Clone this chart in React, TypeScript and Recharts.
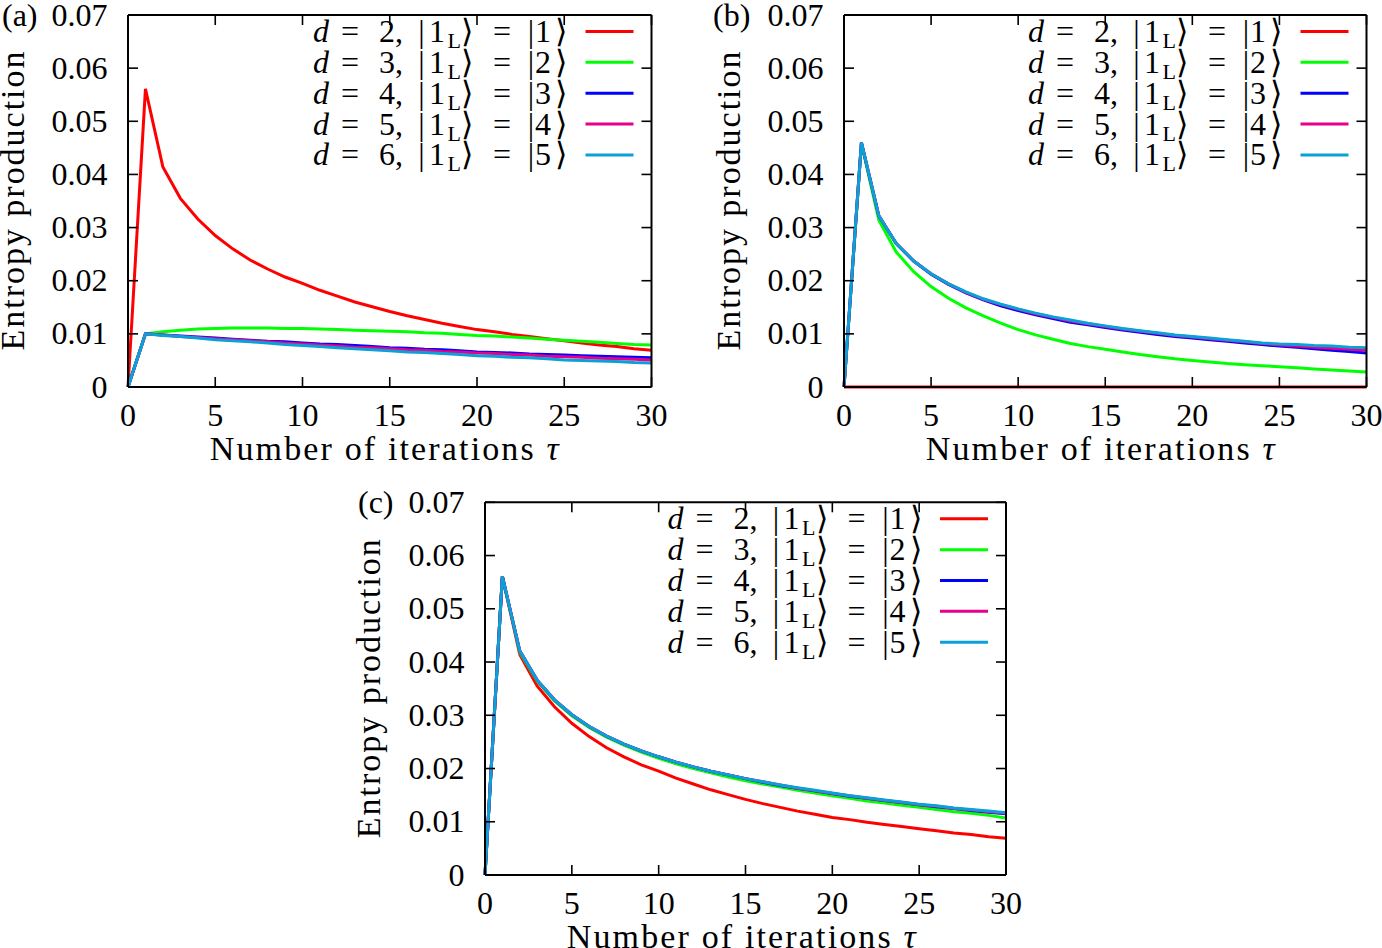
import React from 'react';
import { LineChart, Line, XAxis, YAxis, Legend } from 'recharts';

const taus = [0, 1, 2, 3, 4, 5, 6, 7, 8, 9, 10, 11, 12, 13, 14, 15, 16, 17, 18, 19, 20, 21, 22, 23, 24, 25, 26, 27, 28, 29, 30];

const xTicks = [0, 5, 10, 15, 20, 25, 30];
const xTickLabels = ['0', '5', '10', '15', '20', '25', '30'];
const yTicks = [0, 0.01, 0.02, 0.03, 0.04, 0.05, 0.06, 0.07];
const yTickLabels = ['0', '0.01', '0.02', '0.03', '0.04', '0.05', '0.06', '0.07'];

const dims = [2, 3, 4, 5, 6];
const states = [1, 2, 3, 4, 5];
const seriesKeys = ['d2', 'd3', 'd4', 'd5', 'd6'];
const seriesColors = ['#ff0000', '#00ff00', '#0000ff', '#e6008a', '#0aa0d8'];

// Panel (a)
const aRed = [0, 0.0561, 0.0414, 0.0355, 0.0316, 0.0285, 0.026, 0.0239, 0.0222, 0.0207, 0.0195, 0.0182, 0.0171, 0.016, 0.0151, 0.0142, 0.0134, 0.0127, 0.012, 0.0114, 0.0108, 0.0104, 0.0099, 0.0095, 0.0091, 0.0087, 0.0083, 0.0079, 0.0076, 0.0072, 0.0069];
const aGreen = [0, 0.01, 0.0104, 0.0107, 0.0109, 0.011, 0.0111, 0.0111, 0.0111, 0.011, 0.011, 0.0109, 0.0108, 0.0107, 0.0106, 0.0105, 0.0104, 0.0102, 0.0101, 0.0099, 0.0097, 0.0096, 0.0094, 0.0092, 0.009, 0.0088, 0.0086, 0.0084, 0.0082, 0.008, 0.0079];
const aBlue = [0, 0.01, 0.0098, 0.0096, 0.0094, 0.0092, 0.009, 0.0088, 0.0086, 0.0085, 0.0083, 0.0081, 0.008, 0.0078, 0.0076, 0.0074, 0.0073, 0.0071, 0.007, 0.0068, 0.0066, 0.0065, 0.0064, 0.0062, 0.0061, 0.006, 0.0059, 0.0058, 0.0057, 0.0056, 0.0055];
const aMagenta = [0, 0.01, 0.0098, 0.0095, 0.0093, 0.0091, 0.0089, 0.0087, 0.0085, 0.0083, 0.0081, 0.0079, 0.0077, 0.0075, 0.0074, 0.0072, 0.007, 0.0069, 0.0067, 0.0066, 0.0064, 0.0063, 0.0061, 0.006, 0.0058, 0.0057, 0.0056, 0.0054, 0.0053, 0.0052, 0.0051];
const aCyan = [0, 0.01, 0.0097, 0.0095, 0.0092, 0.0089, 0.0087, 0.0085, 0.0083, 0.008, 0.0078, 0.0076, 0.0074, 0.0072, 0.007, 0.0068, 0.0066, 0.0065, 0.0063, 0.0061, 0.0059, 0.0058, 0.0056, 0.0055, 0.0053, 0.0051, 0.005, 0.0049, 0.0048, 0.0046, 0.0045];

// Panel (b)
const bRed = [0, 0, 0, 0, 0, 0, 0, 0, 0, 0, 0, 0, 0, 0, 0, 0, 0, 0, 0, 0, 0, 0, 0, 0, 0, 0, 0, 0, 0, 0, 0];
const bGreen = [0, 0.0458, 0.0314, 0.0254, 0.0217, 0.0189, 0.0167, 0.0149, 0.0134, 0.012, 0.0108, 0.0098, 0.009, 0.0082, 0.0076, 0.0071, 0.0066, 0.0061, 0.0057, 0.0053, 0.005, 0.0047, 0.0044, 0.0042, 0.004, 0.0038, 0.0036, 0.0034, 0.0032, 0.003, 0.0028];
const bBlue = [0, 0.046, 0.0322, 0.027, 0.0237, 0.0212, 0.0193, 0.0177, 0.0164, 0.0153, 0.0144, 0.0136, 0.0129, 0.0122, 0.0117, 0.0112, 0.0107, 0.0103, 0.0099, 0.0095, 0.0092, 0.0089, 0.0086, 0.0083, 0.008, 0.0077, 0.0075, 0.0072, 0.0069, 0.0067, 0.0064];
const bMagenta = [0, 0.046, 0.0322, 0.027, 0.0237, 0.0213, 0.0194, 0.0178, 0.0165, 0.0155, 0.0146, 0.0138, 0.0131, 0.0124, 0.0119, 0.0114, 0.0109, 0.0105, 0.0101, 0.0097, 0.0094, 0.0091, 0.0088, 0.0085, 0.0082, 0.0079, 0.0077, 0.0075, 0.0073, 0.0071, 0.0069];
const bCyan = [0, 0.046, 0.0322, 0.027, 0.0237, 0.0213, 0.0194, 0.0179, 0.0166, 0.0156, 0.0147, 0.0139, 0.0132, 0.0126, 0.012, 0.0115, 0.011, 0.0106, 0.0102, 0.0098, 0.0095, 0.0092, 0.0089, 0.0086, 0.0083, 0.0081, 0.008, 0.0078, 0.0077, 0.0075, 0.0074];

// Panel (c)
const cRed = [0, 0.0561, 0.0414, 0.0355, 0.0316, 0.0285, 0.026, 0.0239, 0.0222, 0.0207, 0.0195, 0.0182, 0.0171, 0.016, 0.0151, 0.0142, 0.0134, 0.0127, 0.012, 0.0114, 0.0108, 0.0104, 0.0099, 0.0095, 0.0091, 0.0087, 0.0083, 0.0079, 0.0076, 0.0072, 0.0069];
const cGreen = [0, 0.0561, 0.0418, 0.0364, 0.0327, 0.0299, 0.0277, 0.0259, 0.0244, 0.0231, 0.0219, 0.0209, 0.02, 0.0192, 0.0184, 0.0177, 0.0171, 0.0165, 0.0159, 0.0154, 0.0149, 0.0144, 0.0139, 0.0135, 0.0131, 0.0127, 0.0123, 0.0119, 0.0116, 0.0112, 0.0107];
const cBlue = [0, 0.0561, 0.0421, 0.0366, 0.0329, 0.0301, 0.0279, 0.0261, 0.0246, 0.0233, 0.0222, 0.0212, 0.0203, 0.0195, 0.0188, 0.0181, 0.0174, 0.0168, 0.0163, 0.0158, 0.0153, 0.0148, 0.0144, 0.014, 0.0136, 0.0132, 0.0128, 0.0125, 0.0121, 0.0118, 0.0115];
const cMagenta = [0, 0.0561, 0.0421, 0.0366, 0.0329, 0.0301, 0.0279, 0.0261, 0.0246, 0.0233, 0.0222, 0.0212, 0.0203, 0.0195, 0.0188, 0.0181, 0.0175, 0.0169, 0.0163, 0.0158, 0.0153, 0.0149, 0.0144, 0.014, 0.0136, 0.0132, 0.0129, 0.0125, 0.0122, 0.0119, 0.0116];
const cCyan = [0, 0.0561, 0.0421, 0.0366, 0.0329, 0.0301, 0.0279, 0.0261, 0.0246, 0.0233, 0.0222, 0.0212, 0.0203, 0.0195, 0.0188, 0.0181, 0.0175, 0.0169, 0.0164, 0.0159, 0.0154, 0.0149, 0.0145, 0.0141, 0.0137, 0.0133, 0.013, 0.0126, 0.0123, 0.012, 0.0117];

const panelTags = ['(a)', '(b)', '(c)'];

const buildRows = (series: number[][]) =>
  taus.map((t, i) => {
    const row: Record<string, number> = { tau: t };
    seriesKeys.forEach((k, j) => {
      row[k] = series[j][i];
    });
    return row;
  });

const dataA = buildRows([aRed, aGreen, aBlue, aMagenta, aCyan]);
const dataB = buildRows([bRed, bGreen, bBlue, bMagenta, bCyan]);
const dataC = buildRows([cRed, cGreen, cBlue, cMagenta, cCyan]);

const FONT = '"Liberation Serif", "Times New Roman", serif';
const FS = 32;
const LFS = 34;
const TICK = 10;

type PanelCfg = {
  data: Record<string, number>[];
  tag: string;
  left: number;
  top: number;
  width: number;
  height: number;
  yAxisW: number;
  topH: number;
  bottomH: number;
  rightW: number;
  tagX: number;
};

const panels: PanelCfg[] = [
  { data: dataA, tag: panelTags[0], left: 0, top: 0, width: 660, height: 470, yAxisW: 128, topH: 15, bottomH: 83, rightW: 8.5, tagX: 2 },
  { data: dataB, tag: panelTags[1], left: 716, top: 0, width: 659, height: 470, yAxisW: 128, topH: 15, bottomH: 83, rightW: 8.5, tagX: -3 },
  { data: dataC, tag: panelTags[2], left: 357, top: 487, width: 657, height: 461, yAxisW: 128, topH: 15.3, bottomH: 73, rightW: 8, tagX: 1 },
];

const BottomTick = (props: any) => {
  const { x, y, index } = props;
  return (
    <g>
      <line x1={x} y1={y} x2={x} y2={y - TICK} stroke="#000" strokeWidth={1.6} />
      <text x={x} y={y + 39.4} textAnchor="middle" fontFamily={FONT} fontSize={FS} fill="#000">
        {xTickLabels[index]}
      </text>
    </g>
  );
};

const TopTick = (props: any) => {
  const { x, y } = props;
  return <line x1={x} y1={y} x2={x} y2={y + TICK} stroke="#000" strokeWidth={1.6} />;
};

const LeftTick = (props: any) => {
  const { x, y, index } = props;
  return (
    <g>
      <line x1={x} y1={y} x2={x + TICK} y2={y} stroke="#000" strokeWidth={1.6} />
      <text x={x - 20.4} y={y + 10.5} textAnchor="end" fontFamily={FONT} fontSize={FS} fill="#000">
        {yTickLabels[index]}
      </text>
    </g>
  );
};

const RightTick = (props: any) => {
  const { x, y } = props;
  return <line x1={x} y1={y} x2={x - TICK} y2={y} stroke="#000" strokeWidth={1.6} />;
};

const XLabel = (props: any) => {
  const vb = props.viewBox || { x: 0, y: 0 };
  return (
    <text x={vb.x + 81.7} y={vb.y + 72.7} fontFamily={FONT} fontSize={LFS} fill="#000" textLength={349} lengthAdjust="spacing">
      Number of iterations <tspan fontStyle="italic">τ</tspan>
    </text>
  );
};

const YLabel = (props: any) => {
  const vb = props.viewBox || { x: 0, y: 0, width: 0, height: 0 };
  const x = vb.x + vb.width - 104.5;
  const y = vb.y + vb.height / 2;
  return (
    <text
      x={x}
      y={y}
      transform={`rotate(-90, ${x}, ${y})`}
      textAnchor="middle"
      fontFamily={FONT}
      fontSize={LFS}
      fill="#000"
      textLength={299}
      lengthAdjust="spacing"
    >
      Entropy production
    </text>
  );
};

const makeLegend = (cfg: PanelCfg) => (props: any) => {
  const payload = props.payload || [];
  const R = cfg.width - cfg.rightW;
  const T = cfg.topH;
  return (
    <svg width={cfg.width} height={cfg.height} style={{ position: 'absolute', left: 0, top: 0, overflow: 'visible' }}>
      <text x={cfg.tagX} y={T + 10.5} fontFamily={FONT} fontSize={FS} fill="#000">
        {cfg.tag}
      </text>
      {payload.map((p: any, i: number) => {
        const cy = T + 16.5 + 30.85 * i;
        const by = cy + 10.5;
        return (
          <g key={i}>
            <text y={by} fontFamily={FONT} fontSize={FS} fill="#000">
              <tspan x={R - 338.5} fontStyle="italic">d</tspan>
              <tspan x={R - 301.5} textAnchor="middle">=</tspan>
              <tspan x={R - 272.5}>{dims[i]},</tspan>
              <tspan x={R - 230} textAnchor="middle">|</tspan>
              <tspan x={R - 222.5}>1</tspan>
              <tspan x={R - 204} dy={6} fontSize={22}>L</tspan>
              <tspan x={R - 190.5} dy={-6}>⟩</tspan>
              <tspan x={R - 149.5} textAnchor="middle">=</tspan>
              <tspan x={R - 120.5} textAnchor="middle">|</tspan>
              <tspan x={R - 116.5}>{states[i]}</tspan>
              <tspan x={R - 96.5}>⟩</tspan>
            </text>
            <line x1={R - 66} x2={R - 18} y1={cy} y2={cy} stroke={p.color || seriesColors[i]} strokeWidth={3} />
          </g>
        );
      })}
    </svg>
  );
};

const Panel = ({ cfg }: { cfg: PanelCfg }) => (
  <div style={{ position: 'absolute', left: cfg.left, top: cfg.top, width: cfg.width, height: cfg.height }}>
    <LineChart width={cfg.width} height={cfg.height} data={cfg.data} margin={{ top: 0, right: 0, bottom: 0, left: 0 }}>
      <XAxis
        dataKey="tau"
        type="number"
        domain={[0, 30]}
        ticks={xTicks}
        interval={0}
        height={cfg.bottomH}
        tickSize={0}
        tickMargin={0}
        tick={BottomTick}
        tickLine={false}
        axisLine={{ stroke: '#000', strokeWidth: 2 }}
        label={<XLabel />}
      />
      <XAxis
        xAxisId="top"
        orientation="top"
        type="number"
        domain={[0, 30]}
        allowDataOverflow
        ticks={xTicks}
        interval={0}
        height={cfg.topH}
        tickSize={0}
        tickMargin={0}
        tick={TopTick}
        tickLine={false}
        axisLine={{ stroke: '#000', strokeWidth: 2 }}
      />
      <YAxis
        type="number"
        domain={[0, 0.07]}
        ticks={yTicks}
        interval={0}
        width={cfg.yAxisW}
        tickSize={0}
        tickMargin={0}
        tick={LeftTick}
        tickLine={false}
        axisLine={{ stroke: '#000', strokeWidth: 2 }}
        label={<YLabel />}
      />
      <YAxis
        yAxisId="right"
        orientation="right"
        type="number"
        domain={[0, 0.07]}
        allowDataOverflow
        ticks={yTicks}
        interval={0}
        width={cfg.rightW}
        tickSize={0}
        tickMargin={0}
        tick={RightTick}
        tickLine={false}
        axisLine={{ stroke: '#000', strokeWidth: 2 }}
      />
      <Legend
        layout="vertical"
        align="center"
        verticalAlign="middle"
        wrapperStyle={{ left: 0, top: 0, width: cfg.width, height: cfg.height, pointerEvents: 'none' }}
        content={makeLegend(cfg)}
      />
      {seriesKeys.map((k, j) => (
        <Line
          key={k}
          dataKey={k}
          name={`d = ${dims[j]}, |1L⟩ = |${states[j]}⟩`}
          type="linear"
          stroke={seriesColors[j]}
          strokeWidth={3}
          dot={false}
          activeDot={false}
          isAnimationActive={false}
        />
      ))}
    </LineChart>
  </div>
);

export default function App() {
  return (
    <div style={{ position: 'absolute', left: 0, top: 0, width: 1382, height: 948, background: '#fff', overflow: 'hidden' }}>
      <style>{`.recharts-surface{overflow:visible}`}</style>
      {panels.map((p, i) => (
        <Panel key={i} cfg={p} />
      ))}
    </div>
  );
}
